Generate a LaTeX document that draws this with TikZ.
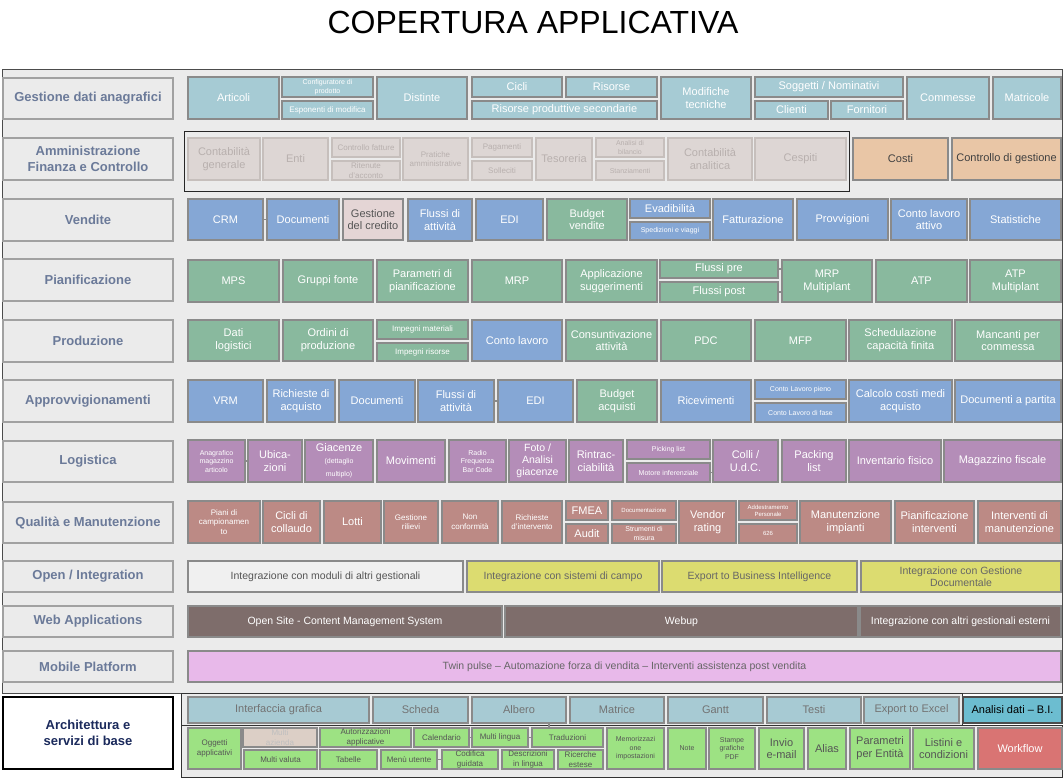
\documentclass[tikz,border=0pt]{standalone}
\usepackage{fontspec}
\setmainfont{Liberation Sans}
\usetikzlibrary{calc}
\definecolor{panel}{HTML}{EBEBEB}
\definecolor{bord}{HTML}{8A8A8A}
\definecolor{teal}{HTML}{A6CBD4}
\definecolor{adm}{HTML}{DDD6D4}
\definecolor{admtxt}{HTML}{B8B0AE}
\definecolor{admbord}{HTML}{C6BFBC}
\definecolor{blu}{HTML}{85A7D5}
\definecolor{grn}{HTML}{89B99E}
\definecolor{pur}{HTML}{B48DB8}
\definecolor{ros}{HTML}{BC8A85}
\definecolor{peach}{HTML}{E9C6A6}
\definecolor{cred}{HTML}{E4D5D5}
\definecolor{yel}{HTML}{DCDC70}
\definecolor{brn}{HTML}{7E6D6B}
\definecolor{pnk}{HTML}{E8B9EA}
\definecolor{archb}{HTML}{A7CAD3}
\definecolor{archg}{HTML}{9DE283}
\definecolor{multaz}{HTML}{DCCFC6}
\definecolor{bicol}{HTML}{6CBDD0}
\definecolor{wf}{HTML}{D97473}
\definecolor{labtxt}{HTML}{6B7A99}
\definecolor{archlab}{HTML}{1B2A5C}
\definecolor{dtxt}{HTML}{555555}
\newcommand\fA{\fontsize{11}{12.8}\selectfont}
\newcommand\fB{\fontsize{8}{9.5}\selectfont}
\newcommand\fC{\fontsize{7}{8.5}\selectfont}
\newcommand\fD{\fontsize{6}{7}\selectfont}
\newcommand\fL{\bfseries\fontsize{13}{15.5}\selectfont}
\newcommand\bx[7]{%
  \pgfmathsetmacro\bw{#5-#3}\pgfmathsetmacro\bh{#6-#4}%
  \node[#2, minimum width=\bw pt, minimum height=\bh pt, anchor=north west] (#1) at (#3,#4) {#7};}
\tikzset{
  cell/.style={draw=bord, line width=1.1pt, inner sep=1pt, outer sep=0pt, align=center, font=\fA, text=white},
  tl/.style={cell, fill=teal},
  ad/.style={cell, fill=adm, draw=admbord, text=admtxt},
  bl/.style={cell, fill=blu},
  gr/.style={cell, fill=grn},
  pu/.style={cell, fill=pur},
  ro/.style={cell, fill=ros},
  lab/.style={cell, fill=panel, draw=bord!80, text=labtxt, font=\fL},
  ab/.style={cell, fill=archb, text=black!55},
  ag/.style={cell, fill=archg, text=dtxt},
  conn/.style={draw=bord, line width=1.1pt}
}
\begin{document}
\begin{tikzpicture}[x=1pt,y=-1pt]
\useasboundingbox (0,0) rectangle (1064,777);
\fill[white] (0,0) rectangle (1064,777);
\node[font=\fontsize{32}{36}\selectfont, anchor=base] (title) at (533,33) {COPERTURA APPLICATIVA};
% panels
\bx{panelmain}{draw=black!70, fill=panel, line width=1.2pt, inner sep=0pt}{2}{69}{1062}{693}{}
\bx{archframe}{draw=black!80, fill=panel, line width=1.2pt, inner sep=0pt}{181}{725}{1062}{777}{}
\bx{archtop}{draw=black!80, fill=panel, line width=1.2pt, inner sep=0pt}{181}{693}{962}{725}{}
\bx{admframe}{draw=black!85, line width=1pt, inner sep=0pt}{184}{131}{849}{191}{}
% labels
\bx{l1}{lab}{3}{78}{173}{119}{Gestione dati anagrafici}
\bx{l2}{lab}{3}{138}{173}{180}{Amministrazione\\Finanza e Controllo}
\bx{l3}{lab}{3}{199}{173}{241}{Vendite}
\bx{l4}{lab}{3}{259}{173}{301}{Pianificazione}
\bx{l5}{lab}{3}{320}{173}{362}{Produzione}
\bx{l6}{lab}{3}{380}{173}{422}{Approvvigionamenti}
\bx{l7}{lab}{3}{441}{173}{482}{Logistica}
\bx{l8}{lab}{3}{502}{173}{543}{Qualità e Manutenzione}
\bx{l9}{lab}{3}{561}{173}{592}{Open / Integration}
\bx{l10}{lab}{3}{606}{173}{637}{Web Applications}
\bx{l11}{lab}{3}{651}{173}{682}{Mobile Platform}
\bx{l12}{lab, fill=white, draw=black, text=archlab}{3}{697}{173}{769}{Architettura e\\servizi di base}
% row 1
\bx{art}{tl}{188}{77}{279}{119}{Articoli}
\bx{conf}{tl, font=\fC}{282}{77}{373}{97}{Configuratore di\\prodotto}
\bx{espo}{tl, font=\fB}{282}{101}{373}{119}{Esponenti di modifica}
\bx{dist}{tl}{377}{77}{467}{119}{Distinte}
\bx{cicli}{tl}{472}{77}{562}{97}{Cicli}
\bx{ris}{tl}{566}{77}{657}{97}{Risorse}
\bx{rps}{tl}{472}{101}{657}{119}{Risorse produttive secondarie}
\bx{modt}{tl}{661}{77}{751}{119}{Modifiche\\tecniche}
\bx{sogg}{tl}{755}{77}{903}{97}{Soggetti / Nominativi}
\bx{cli}{tl}{755}{101}{828}{119}{Clienti}
\bx{forn}{tl}{831}{101}{903}{119}{Fornitori}
\bx{comm}{tl}{907}{77}{989}{119}{Commesse}
\bx{matr}{tl}{993}{77}{1061}{119}{Matricole}
% row 2
\bx{cgen}{ad}{188}{138}{260}{180}{Contabilità\\generale}
\bx{enti}{ad}{263}{138}{328}{180}{Enti}
\bx{cfat}{ad, font=\fB}{332}{138}{400}{157}{Controllo fatture}
\bx{rit}{ad, font=\fB}{332}{161}{400}{180}{Ritenute\\d'acconto}
\bx{prat}{ad, font=\fB}{403}{138}{468}{180}{Pratiche\\amministrative}
\bx{pag}{ad, font=\fB}{472}{138}{532}{157}{Pagamenti}
\bx{soll}{ad, font=\fB}{472}{161}{532}{180}{Solleciti}
\bx{tes}{ad}{536}{138}{592}{180}{Tesoreria}
\bx{anb}{ad, font=\fC}{596}{138}{664}{157}{Analisi di\\bilancio}
\bx{stan}{ad, font=\fC}{596}{161}{664}{180}{Stanziamenti}
\bx{cana}{ad}{668}{138}{752}{180}{Contabilità\\analitica}
\bx{cesp}{ad}{755}{138}{846}{180}{Cespiti}
\bx{costi}{cell, fill=peach, text=black!75}{853}{138}{948}{180}{Costi}
\bx{cdg}{cell, fill=peach, text=black!75}{952}{138}{1061}{180}{Controllo di gestione}
% Vendite
\bx{crm}{bl}{188}{199}{263}{240}{CRM}
\bx{vdoc}{bl}{267}{199}{339}{240}{Documenti}
\bx{gcred}{cell, fill=cred, text=dtxt}{343}{199}{403}{240}{Gestione\\del credito}
\bx{vflu}{bl}{408}{199}{472}{241}{Flussi di\\attività}
\bx{vedi}{bl}{476}{199}{543}{240}{EDI}
\bx{bven}{gr}{547}{199}{627}{240}{Budget\\vendite}
\bx{evad}{bl}{630}{199}{710}{218}{Evadibilità}
\bx{sped}{bl, font=\fC}{630}{222}{710}{240}{Spedizioni e viaggi}
\bx{fatt}{bl}{713}{199}{793}{240}{Fatturazione}
\bx{provv}{bl}{797}{199}{888}{240}{Provvigioni}
\bx{clatt}{bl}{891}{199}{967}{240}{Conto lavoro\\attivo}
\bx{stat}{bl}{970}{199}{1061}{240}{Statistiche}
% Pianificazione
\bx{mps}{gr}{188}{260}{279}{302}{MPS}
\bx{gfon}{gr}{283}{260}{373}{302}{Gruppi fonte}
\bx{parp}{gr}{377}{260}{468}{302}{Parametri di\\pianificazione}
\bx{mrp}{gr}{472}{260}{562}{302}{MRP}
\bx{appl}{gr}{566}{260}{657}{302}{Applicazione\\suggerimenti}
\bx{fpre}{gr}{660}{260}{778}{278}{Flussi pre}
\bx{fpost}{gr}{660}{282}{778}{302}{Flussi post}
\bx{mrpm}{gr}{782}{260}{872}{302}{MRP\\Multiplant}
\bx{atp}{gr}{876}{260}{967}{302}{ATP}
\bx{atpm}{gr}{970}{260}{1061}{302}{ATP\\Multiplant}
% Produzione
\bx{dlog}{gr}{188}{320}{279}{361}{Dati\\logistici}
\bx{ordp}{gr}{283}{320}{373}{361}{Ordini di\\produzione}
\bx{imat}{gr, font=\fB}{377}{320}{468}{339}{Impegni materiali}
\bx{iris}{gr, font=\fB}{377}{343}{468}{361}{Impegni risorse}
\bx{clav}{bl}{472}{320}{562}{361}{Conto lavoro}
\bx{cons}{gr}{566}{320}{657}{361}{Consuntivazione\\attività}
\bx{pdc}{gr}{661}{320}{751}{361}{PDC}
\bx{mfp}{gr}{755}{320}{846}{361}{MFP}
\bx{sched}{gr}{849}{320}{952}{361}{Schedulazione\\capacità finita}
\bx{manc}{gr}{955}{320}{1061}{361}{Mancanti per\\commessa}
% Approvvigionamenti
\bx{vrm}{bl}{188}{380}{263}{422}{VRM}
\bx{rich}{bl}{267}{380}{335}{422}{Richieste di\\acquisto}
\bx{adoc}{bl}{339}{380}{415}{422}{Documenti}
\bx{aflu}{bl}{418}{380}{494}{422}{Flussi di\\attività}
\bx{aedi}{bl}{498}{380}{573}{422}{EDI}
\bx{bacq}{gr}{577}{380}{657}{422}{Budget\\acquisti}
\bx{ricev}{bl}{661}{380}{751}{422}{Ricevimenti}
\bx{clp}{bl, font=\fC}{755}{380}{846}{399}{Conto Lavoro pieno}
\bx{clf}{bl, font=\fC}{755}{403}{846}{422}{Conto Lavoro di fase}
\bx{ccm}{bl}{849}{380}{952}{422}{Calcolo costi medi\\acquisto}
\bx{dpart}{bl}{955}{380}{1061}{422}{Documenti a partita}
% Logistica
\bx{anag}{pu, font=\fC}{188}{440}{245}{482}{Anagrafico\\magazzino\\articolo}
\bx{ubic}{pu}{248}{440}{302}{482}{Ubica-\\zioni}
\bx{giac}{pu}{305}{440}{373}{482}{Giacenze\\[-1pt]{\fC(dettaglio}\\{\fC multiplo)}}
\bx{mov}{pu}{377}{440}{445}{482}{Movimenti}
\bx{radio}{pu, font=\fC}{449}{440}{506}{482}{Radio\\Frequenza\\Bar Code}
\bx{foto}{pu, font=\fontsize{10.5}{12}\selectfont}{509}{440}{566}{482}{Foto /\\Analisi\\giacenze}
\bx{rintr}{pu}{569}{440}{623}{482}{Rintrac-\\ciabilità}
\bx{pick}{pu, font=\fC}{627}{440}{710}{459}{Picking list}
\bx{mot}{pu, font=\fC}{627}{463}{710}{482}{Motore inferenziale}
\bx{colli}{pu}{713}{440}{778}{482}{Colli /\\U.d.C.}
\bx{pack}{pu}{782}{440}{846}{482}{Packing\\list}
\bx{inv}{pu}{849}{440}{941}{482}{Inventario fisico}
\bx{magf}{pu}{944}{440}{1061}{482}{Magazzino fiscale}
% Qualita
\bx{piani}{ro, font=\fB}{188}{501}{260}{543}{Piani di\\campionamen\\to}
\bx{cicc}{ro}{263}{501}{320}{543}{Cicli di\\collaudo}
\bx{lotti}{ro}{324}{501}{381}{543}{Lotti}
\bx{gril}{ro, font=\fB}{384}{501}{438}{543}{Gestione\\rilievi}
\bx{ncon}{ro, font=\fB}{442}{501}{498}{543}{Non\\conformità}
\bx{rint}{ro, font=\fB}{502}{501}{562}{543}{Richieste\\d'intervento}
\bx{fmea}{ro}{566}{501}{608}{520}{FMEA}
\bx{audit}{ro}{566}{524}{608}{543}{Audit}
\bx{docu}{ro, font=\fD}{612}{501}{676}{520}{Documentazione}
\bx{strm}{ro, font=\fC}{612}{524}{676}{543}{Strumenti di\\misura}
\bx{vend}{ro}{679}{501}{736}{543}{Vendor\\rating}
\bx{addp}{ro, font=\fD}{739}{501}{797}{520}{Addestramento\\Personale}
\bx{s626}{ro, font=\fD}{739}{524}{797}{543}{626}
\bx{mimp}{ro}{800}{501}{891}{543}{Manutenzione\\impianti}
\bx{pint}{ro}{895}{501}{974}{543}{Pianificazione\\interventi}
\bx{intm}{ro}{978}{501}{1061}{543}{Interventi di\\manutenzione}
% Open
\bx{iom}{cell, fill=black!6, text=dtxt, font=\fontsize{10.5}{12}\selectfont}{188}{561}{463}{592}{Integrazione con moduli di altri gestionali}
\bx{isc}{cell, fill=yel, text=black!60, font=\fontsize{10.5}{12}\selectfont}{467}{561}{659}{592}{Integrazione con sistemi di campo}
\bx{ebi}{cell, fill=yel, text=black!60, font=\fontsize{10.5}{12}\selectfont}{662}{561}{857}{592}{Export to Business Intelligence}
\bx{igd}{cell, fill=yel, text=black!60, font=\fontsize{10.5}{12}\selectfont}{861}{561}{1061}{592}{Integrazione con Gestione\\Documentale}
% Web
\bx{osite}{cell, fill=brn, font=\fontsize{10.5}{12}\selectfont}{188}{606}{502}{637}{Open Site - Content Management System}
\bx{webup}{cell, fill=brn, font=\fontsize{10.5}{12}\selectfont}{505}{606}{858}{637}{Webup}
\bx{iage}{cell, fill=brn, font=\fontsize{10.5}{12}\selectfont}{860}{606}{1061}{637}{Integrazione con altri gestionali esterni}
% Mobile
\bx{twin}{cell, fill=pnk, text=black!60, font=\fontsize{10.5}{12}\selectfont}{188}{651}{1061}{682}{Twin pulse – Automazione forza di vendita – Interventi assistenza post vendita}
% Architettura top
\bx{igr}{ab}{188}{697}{369}{723}{Interfaccia grafica}
\bx{sch}{ab}{373}{697}{468}{723}{Scheda}
\bx{alb}{ab}{472}{697}{566}{723}{Albero}
\bx{matx}{ab}{570}{697}{664}{723}{Matrice}
\bx{gantt}{ab}{668}{697}{763}{723}{Gantt}
\bx{testi}{ab}{767}{697}{861}{723}{Testi}
\bx{exp}{ab}{864}{697}{959}{723}{Export to Excel}
\bx{bi}{cell, fill=bicol, text=black, draw=black!70}{963}{697}{1062}{723}{Analisi dati – B.I.}
% Architettura bottom
\bx{ogg}{ag, font=\fB}{188}{728}{241}{769}{Oggetti\\applicativi}
\bx{maz}{ag, fill=multaz, text=black!25, font=\fB}{243}{728}{317}{747}{Multi\\azienda}
\bx{mval}{ag, font=\fB}{244}{750}{317}{769}{Multi valuta}
\bx{aut}{ag, font=\fB}{320}{728}{411}{747}{Autorizzazioni\\applicative}
\bx{tab}{ag, font=\fB}{320}{750}{377}{769}{Tabelle}
\bx{cal}{ag, font=\fB}{414}{728}{469}{747}{Calendario}
\bx{mlin}{ag, font=\fB}{472}{728}{528}{747}{Multi lingua}
\bx{trad}{ag, font=\fB}{532}{728}{603}{747}{Traduzioni}
\bx{menu}{ag, font=\fB}{381}{750}{437}{769}{Menù utente}
\bx{codg}{ag, font=\fB}{442}{750}{498}{769}{Codifica\\guidata}
\bx{desc}{ag, font=\fB}{502}{750}{554}{769}{Descrizioni\\in lingua}
\bx{ricr}{ag, font=\fB}{558}{750}{603}{769}{Ricerche\\estese}
\bx{memo}{ag, font=\fC}{607}{728}{664}{769}{Memorizzazi\\one\\impostazioni}
\bx{note}{ag, font=\fC}{668}{728}{706}{769}{Note}
\bx{stamp}{ag, font=\fC}{709}{728}{755}{769}{Stampe\\grafiche\\PDF}
\bx{invio}{ag}{759}{728}{804}{769}{Invio\\e-mail}
\bx{alias}{ag}{808}{728}{846}{769}{Alias}
\bx{parE}{ag}{850}{728}{910}{769}{Parametri\\per Entità}
\bx{list}{ag}{913}{728}{974}{769}{Listini e\\condizioni}
\bx{wflow}{cell, fill=wf}{978}{728}{1062}{769}{Workflow}
% connectors
\draw[conn] (crm) -- (vdoc);
\draw[conn] (fpre.east) -- (fpre.east -| mrpm.west);
\draw[conn] (fpost.east) -- (fpost.east -| mrpm.west);
\draw[conn] (aflu) -- (aedi);
\draw[conn] (anag) -- (ubic);
\draw[conn] (mot.east) -- (mot.east -| colli.west);
\draw[conn] (cal) -- (mlin);
\draw[conn] (mlin) -- (trad);
\draw[conn] (menu) -- (codg);
\coordinate (tk) at (549,723);
\draw[conn] (alb.south -| tk) -- (trad.north -| tk);
\end{tikzpicture}
\end{document}
